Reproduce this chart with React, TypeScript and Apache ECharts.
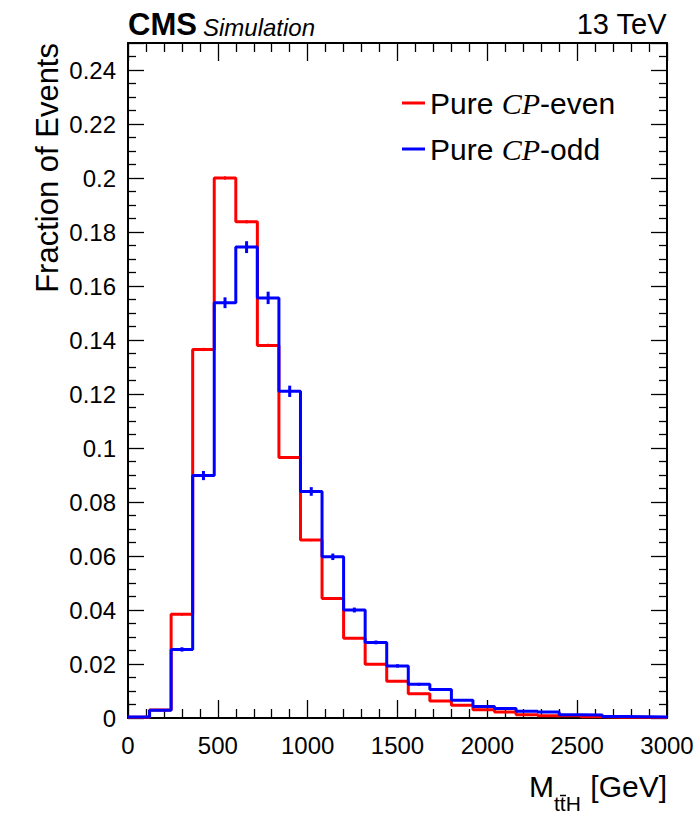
import React, { useEffect, useRef } from "react";
import * as echarts from "echarts";

const binEdges = [0, 120, 240, 360, 480, 600, 720, 840, 960, 1080, 1200, 1320, 1440, 1560, 1680, 1800, 1920, 2040, 2160, 2280, 2400, 2520, 2640, 2760, 2880, 3000];
const cpEven = [0.0003, 0.003, 0.0384, 0.1365, 0.2, 0.1838, 0.138, 0.0965, 0.0659, 0.0443, 0.0295, 0.0199, 0.0136, 0.009, 0.0063, 0.0047, 0.0031, 0.0022, 0.0012, 0.0008, 0.0009, 0.0005, 0.0003, 0.0003, 0.0002];
const cpEvenErr = [0.0001, 0.0003, 0.0005, 0.0006, 0.0006, 0.0006, 0.0006, 0.0005, 0.0004, 0.0003, 0.0003, 0.0002, 0.0002, 0.0002, 0.0001, 0.0001, 0.0001, 0.0001, 0.0001, 0.0001, 0.0001, 0.0001, 0.0001, 0.0001, 0.0001];
const cpOdd = [0.0004, 0.0029, 0.0254, 0.0898, 0.1538, 0.1744, 0.1556, 0.121, 0.0839, 0.0597, 0.04, 0.028, 0.0193, 0.0125, 0.0106, 0.0066, 0.0043, 0.0035, 0.0025, 0.0022, 0.0012, 0.0011, 0.0006, 0.0005, 0.0004];
const cpOddErr = [0.0002, 0.0004, 0.0008, 0.0017, 0.002, 0.0022, 0.0023, 0.0021, 0.0016, 0.0012, 0.0009, 0.0007, 0.0006, 0.0005, 0.0004, 0.0003, 0.0003, 0.0003, 0.0002, 0.0002, 0.0002, 0.0002, 0.0002, 0.0002, 0.0002];
const xTicks = [0, 500, 1000, 1500, 2000, 2500, 3000];
const yTicks = [0, 0.02, 0.04, 0.06, 0.08, 0.1, 0.12, 0.14, 0.16, 0.18, 0.2, 0.22, 0.24];

const SANS = "Liberation Sans";
const SERIF = "Liberation Serif";

function stepData(vals: number[]) {
  return binEdges.map((e, i) => [e, vals[Math.min(i, vals.length - 1)]]);
}
function errData(vals: number[], errs: number[]) {
  return vals.map((v, i) => [(binEdges[i] + binEdges[i + 1]) / 2, v, errs[i]]);
}
function errSeries(name: string, vals: number[], errs: number[], color: string, width: number) {
  return {
    type: "custom",
    name,
    data: errData(vals, errs),
    silent: true,
    renderItem: (_p: any, api: any) => {
      const x = api.value(0), y = api.value(1), e = api.value(2);
      const a = api.coord([x, y - e]);
      const b = api.coord([x, y + e]);
      return {
        type: "line",
        shape: { x1: a[0], y1: a[1], x2: b[0], y2: b[1] },
        style: { stroke: color, lineWidth: width },
      };
    },
  };
}

const axisCommon = {
  type: "value",
  axisLine: { show: true, onZero: false, lineStyle: { color: "#000", width: 2 } },
  splitLine: { show: false },
};

export default function App() {
  const ref = useRef<HTMLDivElement>(null);
  useEffect(() => {
    const chart = echarts.init(ref.current!, null, { renderer: "svg" });
    const grid = { left: 128, top: 43, width: 539, height: 675 };
    const xBase = {
      ...axisCommon,
      min: xTicks[0],
      max: xTicks[xTicks.length - 1],
      interval: xTicks[1] - xTicks[0],
      axisTick: { show: true, inside: true, length: 18, lineStyle: { color: "#000", width: 1.3 } },
      minorTick: { show: true, splitNumber: 5, length: 9, lineStyle: { color: "#000", width: 1.3 } },
    };
    const yBase = {
      ...axisCommon,
      min: yTicks[0],
      max: 0.25,
      interval: yTicks[1] - yTicks[0],
      axisTick: { show: true, inside: true, length: 16, lineStyle: { color: "#000", width: 1.3 } },
      minorTick: { show: true, splitNumber: 4, length: 8, lineStyle: { color: "#000", width: 1.3 } },
    };
    const option: any = {
      animation: false,
      grid,
      xAxis: [
        {
          ...xBase,
          position: "bottom",
          axisLabel: { show: true, margin: 15, fontFamily: SANS, fontSize: 24, color: "#000", formatter: (v: number) => String(v) },
        },
        { ...xBase, position: "top", axisLabel: { show: false } },
      ],
      yAxis: [
        {
          ...yBase,
          position: "left",
          axisLabel: { show: true, showMaxLabel: false, margin: 12, fontFamily: SANS, fontSize: 24, color: "#000" },
        },
        { ...yBase, position: "right", axisLabel: { show: false } },
      ],
      legend: {
        left: 397,
        top: 83,
        orient: "vertical",
        icon: "rect",
        itemWidth: 23,
        itemHeight: 3,
        itemGap: 16,
        selectedMode: false,
        data: [
          { name: "Pure CP-even", itemStyle: { color: "#ff0000" } },
          { name: "Pure CP-odd", itemStyle: { color: "#0000ff" } },
        ],
        formatter: (name: string) => name.replace("CP", "{i|CP}"),
        textStyle: {
          fontFamily: SANS,
          fontSize: 30,
          lineHeight: 30,
          color: "#000",
          rich: { i: { fontFamily: SERIF, fontStyle: "italic", fontSize: 30, lineHeight: 30, color: "#000" } },
        },
      },
      series: [
        {
          type: "line",
          name: "Pure CP-even",
          step: "end",
          data: stepData(cpEven),
          showSymbol: false,
          lineStyle: { color: "#ff0000", width: 3 },
          itemStyle: { color: "#ff0000" },
          z: 2,
        },
        { ...errSeries("evenErr", cpEven, cpEvenErr, "#ff0000", 2), z: 2 },
        {
          type: "line",
          name: "Pure CP-odd",
          step: "end",
          data: stepData(cpOdd),
          showSymbol: false,
          lineStyle: { color: "#0000ff", width: 3 },
          itemStyle: { color: "#0000ff" },
          z: 3,
        },
        { ...errSeries("oddErr", cpOdd, cpOddErr, "#0000ff", 3), z: 3 },
      ],
      graphic: [
        { type: "text", left: 128, top: 9, style: { text: "CMS", fontFamily: SANS, fontWeight: "bold", fontSize: 31, fill: "#000" } },
        { type: "text", left: 203, top: 15, style: { text: "Simulation", fontFamily: SANS, fontStyle: "italic", fontSize: 24, fill: "#000" } },
        { type: "text", right: 30, top: 9, style: { text: "13 TeV", fontFamily: SANS, fontSize: 29, fill: "#000" } },
        {
          type: "text",
          x: 47,
          y: 43,
          rotation: Math.PI / 2,
          style: { text: "Fraction of Events", fontFamily: SANS, fontSize: 31, fill: "#000", align: "right", verticalAlign: "middle" },
        },
        { type: "text", x: 529, y: 786, style: { text: "M", fontFamily: SANS, fontSize: 30, fill: "#000", align: "left", verticalAlign: "middle" } },
        { type: "text", x: 554, y: 803, style: { text: "ttH", fontFamily: SANS, fontSize: 21, fill: "#000", align: "left", verticalAlign: "middle" } },
        { type: "line", shape: { x1: 560, y1: 795.5, x2: 566, y2: 795.5 }, style: { stroke: "#000", lineWidth: 1.5 } },
        { type: "text", x: 667, y: 786, style: { text: "[GeV]", fontFamily: SANS, fontSize: 30, fill: "#000", align: "right", verticalAlign: "middle" } },
      ],
    };
    chart.setOption(option);
    return () => chart.dispose();
  }, []);
  return <div ref={ref} style={{ position: "fixed", left: 0, top: 0, width: 697, height: 813, background: "#fff" }} />;
}
